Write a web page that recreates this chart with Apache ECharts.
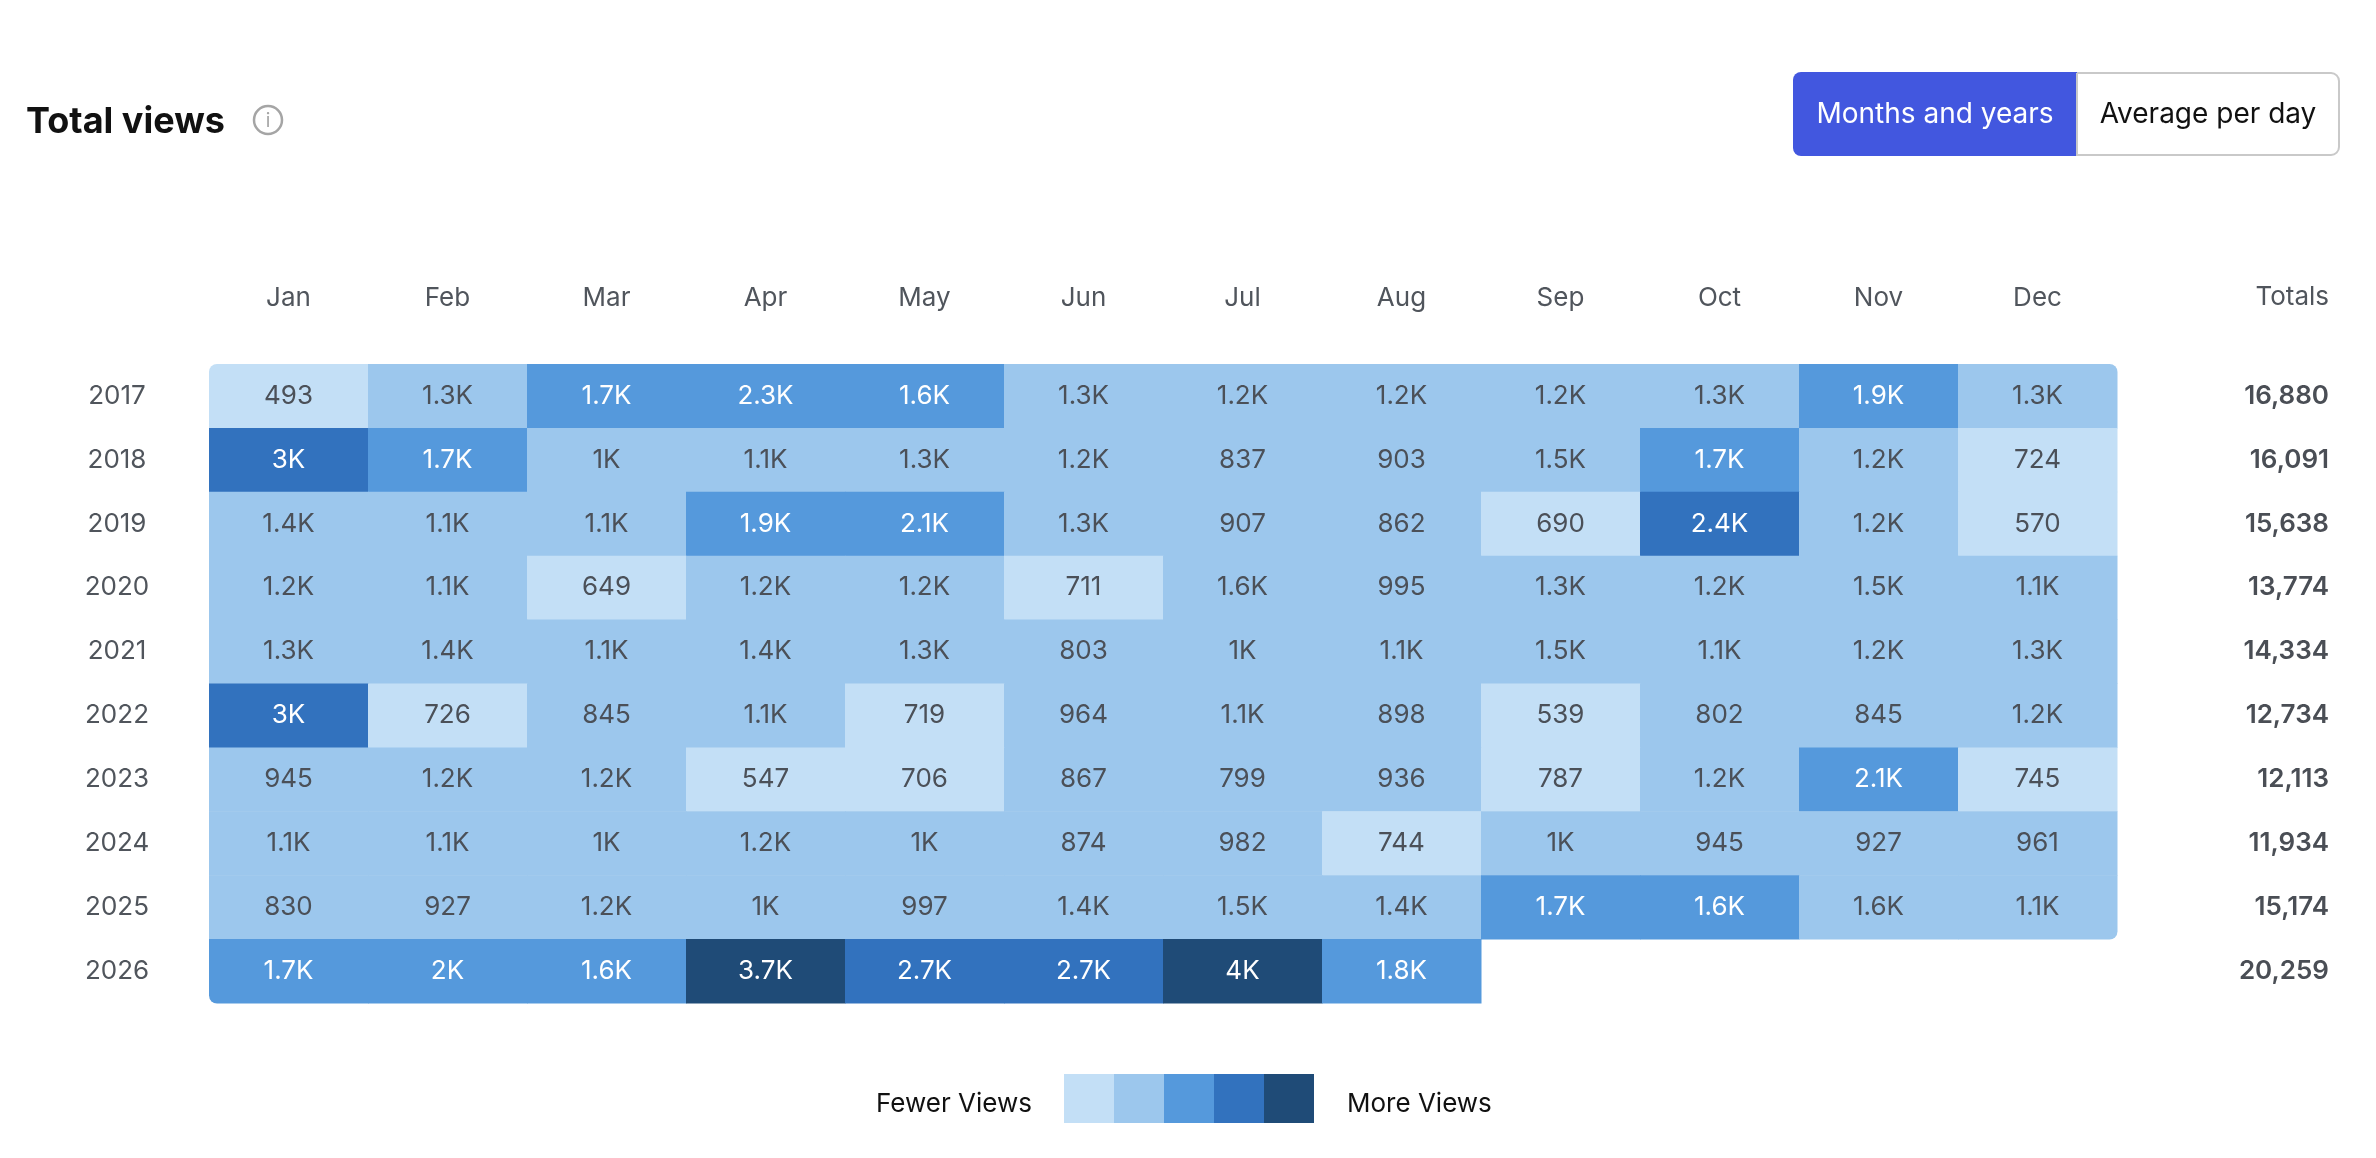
<!DOCTYPE html>
<html>
<head>
<meta charset="utf-8">
<title>Total views</title>
<script src="https://cdn.jsdelivr.net/npm/echarts@6/dist/echarts.min.js"></script>
<style>
  html, body { margin: 0; padding: 0; background: #fff; }
  #chart { width: 2376px; height: 1158px; }
</style>
</head>
<body>
<div id="chart"></div>
<script>
const months = ['Jan', 'Feb', 'Mar', 'Apr', 'May', 'Jun', 'Jul', 'Aug', 'Sep', 'Oct', 'Nov', 'Dec']
const years = ['2017', '2018', '2019', '2020', '2021', '2022', '2023', '2024', '2025', '2026']

const views2017 = [493, 1300, 1700, 2300, 1620, 1300, 1200, 1200, 1200, 1300, 1900, 1300]
const views2018 = [3000, 1700, 1000, 1100, 1300, 1200, 837, 903, 1500, 1700, 1200, 724]
const views2019 = [1400, 1100, 1100, 1900, 2100, 1300, 907, 862, 690, 2400, 1200, 570]
const views2020 = [1200, 1100, 649, 1200, 1200, 711, 1570, 995, 1300, 1200, 1500, 1100]
const views2021 = [1300, 1400, 1100, 1400, 1300, 803, 1000, 1100, 1500, 1100, 1200, 1300]
const views2022 = [3000, 726, 845, 1100, 719, 964, 1100, 898, 539, 802, 845, 1200]
const views2023 = [945, 1200, 1200, 547, 706, 867, 799, 936, 787, 1200, 2100, 745]
const views2024 = [1100, 1100, 1000, 1200, 1000, 874, 982, 744, 1000, 945, 927, 961]
const views2025 = [830, 927, 1200, 1000, 997, 1400, 1500, 1400, 1700, 1630, 1580, 1100]
const views2026 = [1700, 2000, 1610, 3700, 2700, 2700, 4000, 1800]

const totals = [16880, 16091, 15638, 13774, 14334, 12734, 12113, 11934, 15174, 20259]

const levelBreaks = [790, 1600, 2350, 3400]
const levelColors = ['#c3dff6', '#9cc7ed', '#5599dc', '#3272be', '#1f4b77']

const FONT = 'Inter, "Noto Sans", sans-serif'

const rows = [views2017, views2018, views2019, views2020, views2021,
  views2022, views2023, views2024, views2025, views2026]

const cells = []
rows.forEach((row, y) => {
  row.forEach((v, m) => {
    cells.push([m, y, v])
  })
})

const fmt = (v) => {
  if (v < 1000) return String(v)
  return (v / 1000).toFixed(1).replace(/\.0$/, '') + 'K'
}

const lastRow = rows.length - 1

const renderCell = (params, api) => {
  const m = api.value(0)
  const y = api.value(1)
  const v = api.value(2)
  const c = api.coord([m, y])
  const s = api.size([1, 1])
  const r = [0, 0, 0, 0]
  if (m === 0 && y === 0) r[0] = 8
  if (m === 11 && y === 0) r[1] = 8
  if (m === 11 && y === lastRow - 1) r[2] = 8
  if (m === 0 && y === lastRow) r[3] = 8
  return {
    type: 'group',
    children: [
      {
        type: 'rect',
        shape: { x: c[0] - s[0] / 2, y: c[1] - s[1] / 2, width: s[0] + 0.5, height: s[1] + 0.5, r: r },
        style: { fill: api.visual('color') }
      },
      {
        type: 'text',
        style: {
          x: c[0], y: c[1],
          text: fmt(v),
          fill: v >= levelBreaks[1] ? '#ffffff' : '#4b5058',
          font: '26px ' + FONT,
          align: 'center',
          verticalAlign: 'middle'
        }
      }
    ]
  }
}

const chart = echarts.init(document.getElementById('chart'))

chart.setOption({
  animation: false,
  grid: { left: 209, right: 259, top: 364, bottom: 155 },
  xAxis: {
    type: 'category',
    data: months,
    position: 'top',
    axisLine: { show: false },
    axisTick: { show: false },
    splitLine: { show: false },
    axisLabel: { margin: 53, color: '#50555c', fontSize: 26, fontFamily: FONT }
  },
  yAxis: [
    {
      type: 'category',
      data: years,
      inverse: true,
      axisLine: { show: false },
      axisTick: { show: false },
      splitLine: { show: false },
      axisLabel: { margin: 92, align: 'center', color: '#50555c', fontSize: 26, fontFamily: FONT }
    },
    {
      type: 'category',
      data: years,
      inverse: true,
      position: 'right',
      axisLine: { show: false },
      axisTick: { show: false },
      splitLine: { show: false },
      axisLabel: {
        margin: 212,
        align: 'right',
        color: '#4a4e55',
        fontSize: 26,
        fontWeight: 600,
        fontFamily: FONT,
        formatter: (val, idx) => totals[idx].toLocaleString('en-US')
      }
    }
  ],
  visualMap: {
    type: 'piecewise',
    dimension: 2,
    seriesIndex: 0,
    orient: 'horizontal',
    left: 1064,
    top: 1074,
    padding: 0,
    itemWidth: 50,
    itemHeight: 49,
    itemGap: 0,
    itemSymbol: 'rect',
    showLabel: false,
    selectedMode: false,
    hoverLink: false,
    pieces: [
      { lt: levelBreaks[0], color: levelColors[0] },
      { gte: levelBreaks[0], lt: levelBreaks[1], color: levelColors[1] },
      { gte: levelBreaks[1], lt: levelBreaks[2], color: levelColors[2] },
      { gte: levelBreaks[2], lt: levelBreaks[3], color: levelColors[3] },
      { gte: levelBreaks[3], color: levelColors[4] }
    ]
  },
  graphic: [
    {
      type: 'text',
      style: { x: 26, y: 122, text: 'Total views', font: 'bold 36px ' + FONT, fill: '#111', verticalAlign: 'middle' }
    },
    {
      type: 'circle',
      shape: { cx: 268, cy: 120, r: 14 },
      style: { fill: 'none', stroke: '#a5a5a5', lineWidth: 2.5 }
    },
    {
      type: 'text',
      style: { x: 268, y: 121, text: 'i', font: '19px ' + FONT, fill: '#a5a5a5', align: 'center', verticalAlign: 'middle' }
    },
    {
      type: 'rect',
      shape: { x: 1793, y: 72, width: 284, height: 84, r: [8, 0, 0, 8] },
      style: { fill: '#4257df' }
    },
    {
      type: 'text',
      style: { x: 1935, y: 115, text: 'Months and years', font: '28px ' + FONT, fill: '#fff', align: 'center', verticalAlign: 'middle' }
    },
    {
      type: 'rect',
      shape: { x: 2077, y: 73, width: 262, height: 82, r: [0, 8, 8, 0] },
      style: { fill: '#fff', stroke: '#c9c9c9', lineWidth: 2 }
    },
    {
      type: 'text',
      style: { x: 2208, y: 115, text: 'Average per day', font: '28px ' + FONT, fill: '#111', align: 'center', verticalAlign: 'middle' }
    },
    {
      type: 'text',
      style: { x: 2329, y: 297, text: 'Totals', font: '26px ' + FONT, fill: '#50555c', align: 'right', verticalAlign: 'middle' }
    },
    {
      type: 'text',
      style: { x: 1032, y: 1104, text: 'Fewer Views', font: '26px ' + FONT, fill: '#111', align: 'right', verticalAlign: 'middle' }
    },
    {
      type: 'text',
      style: { x: 1347, y: 1104, text: 'More Views', font: '26px ' + FONT, fill: '#111', align: 'left', verticalAlign: 'middle' }
    }
  ],
  series: [
    {
      type: 'custom',
      coordinateSystem: 'cartesian2d',
      renderItem: renderCell,
      data: cells,
      encode: { x: 0, y: 1 }
    }
  ]
})
</script>
</body>
</html>
